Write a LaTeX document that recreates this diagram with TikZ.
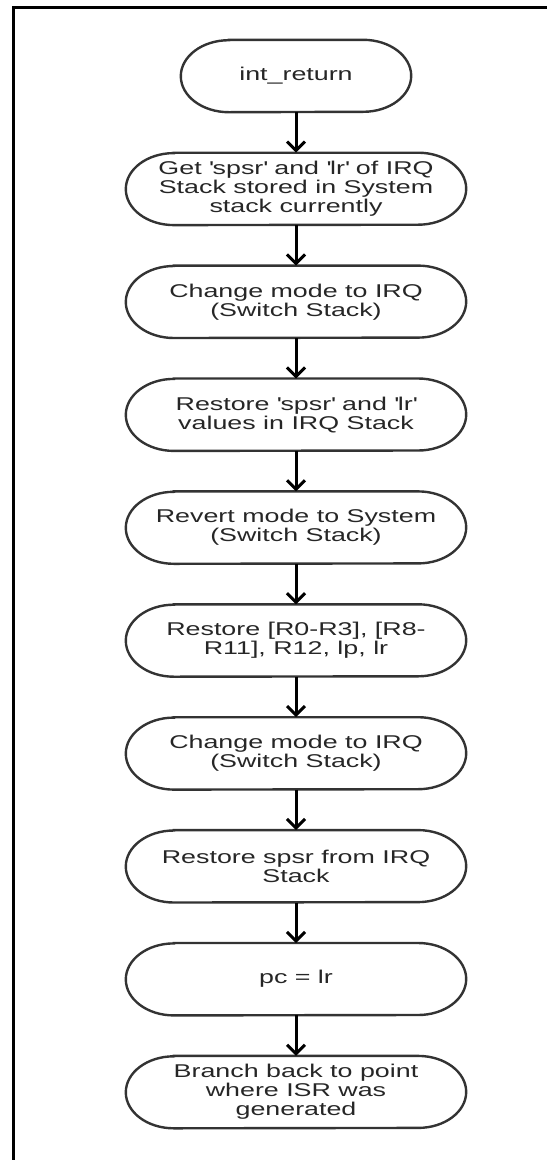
\documentclass[tikz,border=0pt]{standalone}
\usepackage{fontspec}
\setmainfont[FakeStretch=1.45]{Liberation Sans}
\usepackage{tikz}
\usetikzlibrary{arrows.meta, positioning}

\begin{document}
\begin{tikzpicture}[
			x=1pt, y=1pt,
			node distance=40.5pt,
			every node/.style={align=center, text=black!85, font=\fontsize{18.5}{19}\selectfont},
			stepbox/.style={rectangle, minimum width=340pt, minimum height=72pt, inner sep=0pt},
			outline/.style={draw=black!80, line width=2.4pt},
			arrow/.style={-{Straight Barb[length=9pt, width=18pt, line width=3pt]}, line width=3pt}
			]
			\useasboundingbox (0,0) rectangle (547,-1160);
			
			% Frame
			\draw [line width=3pt] (13,-1160) |- (547,-7);
			
			% Nodes
			\node (ret) [stepbox, minimum width=230pt] at (296,-76) {int\_return};
			\node (getregs) [stepbox, below=of ret] {Get \textquotesingle spsr\textquotesingle{} and \textquotesingle lr\textquotesingle{} of IRQ\\Stack stored in System\\stack currently};
			\node (toirq) [stepbox, below=of getregs] {Change mode to IRQ\\(Switch Stack)};
			\node (putregs) [stepbox, below=of toirq] {Restore \textquotesingle spsr\textquotesingle{} and \textquotesingle lr\textquotesingle\\values in IRQ Stack};
			\node (tosys) [stepbox, below=of putregs] {Revert mode to System\\(Switch Stack)};
			\node (restore) [stepbox, below=of tosys] {Restore [R0-R3], [R8-\\R11], R12, lp, lr};
			\node (toirqb) [stepbox, below=of restore] {Change mode to IRQ\\(Switch Stack)};
			\node (spsr) [stepbox, below=of toirqb] {Restore spsr from IRQ\\Stack};
			\node (pc) [stepbox, below=of spsr] {pc = lr};
			\node (branch) [stepbox, below=of pc] {Branch back to point\\where ISR was\\generated};
			
			% Outlines
			\foreach \n in {ret,getregs,toirq,putregs,tosys,restore,toirqb,spsr,pc,branch}
				\draw [outline] ([xshift=48pt]\n.north west) -- ([xshift=-48pt]\n.north east)
					arc [start angle=90, end angle=-90, x radius=48pt, y radius=36pt]
					-- ([xshift=48pt]\n.south west)
					arc [start angle=270, end angle=90, x radius=48pt, y radius=36pt] -- cycle;
			
			% Connections
			\draw [arrow] (ret) -- (getregs);
			\draw [arrow] (getregs) -- (toirq);
			\draw [arrow] (toirq) -- (putregs);
			\draw [arrow] (putregs) -- (tosys);
			\draw [arrow] (tosys) -- (restore);
			\draw [arrow] (restore) -- (toirqb);
			\draw [arrow] (toirqb) -- (spsr);
			\draw [arrow] (spsr) -- (pc);
			\draw [arrow] (pc) -- (branch);
			
		\end{tikzpicture}
\end{document}
